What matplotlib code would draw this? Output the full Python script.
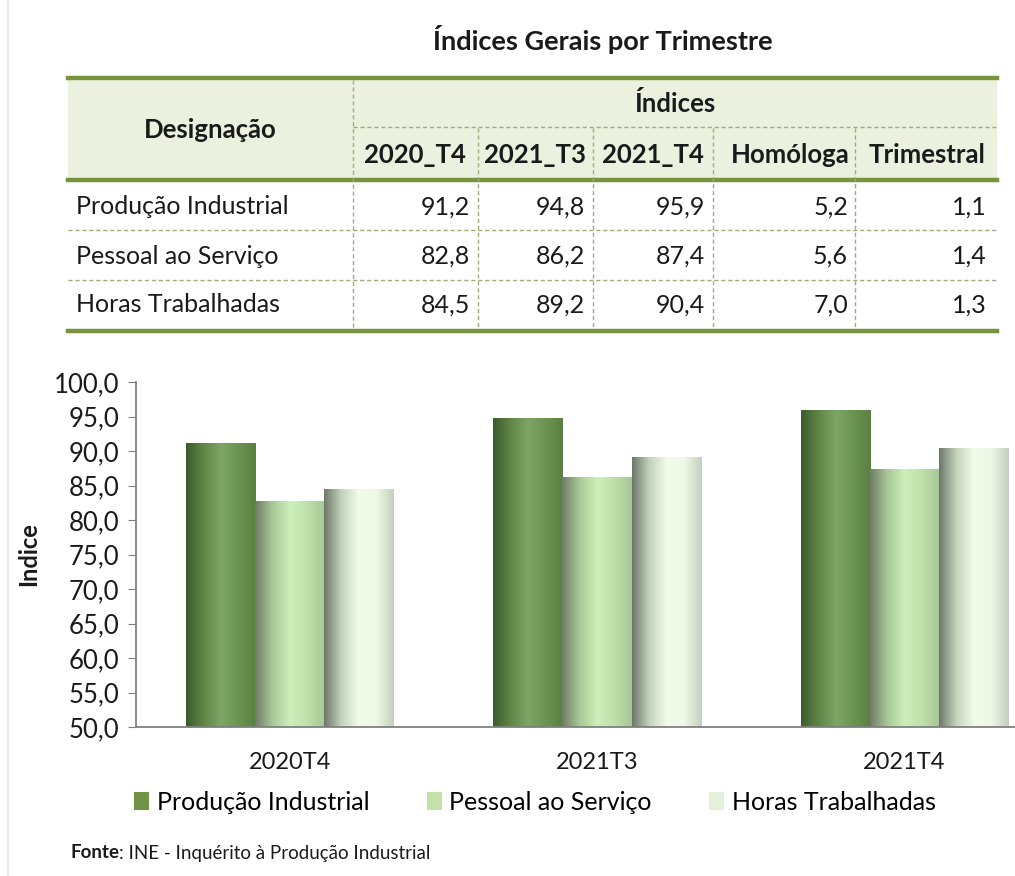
import numpy as np
import matplotlib.pyplot as plt
from matplotlib.colors import LinearSegmentedColormap
from matplotlib.patches import Patch, Rectangle
from matplotlib.lines import Line2D

plt.rcParams['font.family'] = ['Lato', 'DejaVu Sans']

# data
categories = ['2020T4', '2021T3', '2021T4']
series_names = ['Produção Industrial', 'Pessoal ao Serviço', 'Horas Trabalhadas']
producao = [91.2, 94.8, 95.9]
pessoal = [82.8, 86.2, 87.4]
horas = [84.5, 89.2, 90.4]
homologa = [5.2, 5.6, 7.0]
trimestral = [1.1, 1.4, 1.3]
table_cols = ['2020_T4', '2021_T3', '2021_T4', 'Homóloga', 'Trimestral']
yticks = np.arange(50, 101, 5)

W, H = 1015, 876
fig = plt.figure(figsize=(W / 100, H / 100), dpi=100)

def fx(x):
    return x / W

def fy(y):
    return 1 - y / H

def fmt(v):
    return f"{v:.1f}".replace('.', ',')

# faint page border
fig.add_artist(Line2D([fx(8), fx(8)], [0, 1], color='#dce6f2', lw=1.2))

# title
fig.text(fx(603), fy(40), 'Índices Gerais por Trimestre', ha='center', va='center',
         fontsize=19.5, fontweight='bold', color='#1a1a1a')

# ---------------- table ----------------
tab_l, tab_r = 68, 997
green = '#77933c'
dash_c = '#9aae7a'
fig.add_artist(Rectangle((fx(tab_l), fy(179)), fx(tab_r - tab_l), (179 - 79) / H,
                         facecolor='#ebf1de', edgecolor='none'))
for yy in [78, 180, 331]:
    fig.add_artist(Line2D([fx(tab_l), fx(tab_r)], [fy(yy), fy(yy)], color=green, lw=3.2))
fig.add_artist(Line2D([fx(353), fx(tab_r)], [fy(127), fy(127)], color=dash_c, lw=1,
                      linestyle=(0, (3, 2))))
for yy in [230, 280]:
    fig.add_artist(Line2D([fx(tab_l), fx(tab_r)], [fy(yy), fy(yy)], color=dash_c, lw=1,
                          linestyle=(0, (3, 2))))
fig.add_artist(Line2D([fx(353), fx(353)], [fy(80), fy(329)], color=dash_c, lw=1,
                      linestyle=(0, (3, 2))))
for xx in [478, 593, 713, 855]:
    fig.add_artist(Line2D([fx(xx), fx(xx)], [fy(128), fy(329)], color=dash_c, lw=1,
                          linestyle=(0, (3, 2))))

fs = 18
fsb = 18.5
fig.text(fx(210), fy(130), 'Designação', ha='center', va='center', fontsize=fsb,
         fontweight='bold', color='#1a1a1a')
fig.text(fx(675), fy(103), 'Índices', ha='center', va='center', fontsize=fsb,
         fontweight='bold', color='#1a1a1a')
col_centers = [415, 535, 653, 790, 927]
for c, lab in zip(col_centers, table_cols):
    fig.text(fx(c), fy(155), lab, ha='center', va='center', fontsize=fsb,
             fontweight='bold', color='#1a1a1a')

col_right = [470, 585, 705, 848, 987]
row_y = [207, 256, 305]
rows = [
    [producao[0], producao[1], producao[2], homologa[0], trimestral[0]],
    [pessoal[0], pessoal[1], pessoal[2], homologa[1], trimestral[1]],
    [horas[0], horas[1], horas[2], homologa[2], trimestral[2]],
]
for ry, name, vals in zip(row_y, series_names, rows):
    fig.text(fx(76), fy(ry), name, ha='left', va='center', fontsize=fs, color='#1a1a1a')
    for cr, v in zip(col_right, vals):
        fig.text(fx(cr), fy(ry), fmt(v), ha='right', va='center', fontsize=fs,
                 color='#1a1a1a')

# ---------------- chart ----------------
ax = fig.add_axes([fx(136), fy(727), fx(1015 - 136), (727 - 382) / H])
x = np.arange(len(categories))
bw = 0.225
grads = [
    ['#3d5a2e', '#5f8646', '#7ea566', '#6b9550', '#5a7f42'],
    ['#6e7d66', '#a9c898', '#cdefb9', '#bfe0a9', '#a9c596'],
    ['#6c776a', '#c5d3bd', '#f1fbe9', '#eef8e6', '#c4cfbe'],
]
legend_cols = ['#6f9447', '#c3e2aa', '#e4f0da']
for i, vals in enumerate([producao, pessoal, horas]):
    bars = ax.bar(x + (i - 1) * bw, np.array(vals) - 50, bw, bottom=50,
                  color='none', edgecolor='none', zorder=2)
    cmap = LinearSegmentedColormap.from_list(f'g{i}', grads[i])
    grad = np.linspace(0, 1, 256).reshape(1, -1)
    for b in bars:
        x0, y0 = b.get_x(), b.get_y()
        im = ax.imshow(grad, cmap=cmap, aspect='auto', zorder=2,
                       extent=[x0, x0 + b.get_width(), y0, y0 + b.get_height()])
        im.set_clip_path(b)

ax.set_xlim(-0.5, 2.36)
ax.set_ylim(50, 100)
ax.set_yticks(yticks)
ax.set_yticklabels([fmt(v) for v in yticks], fontsize=18.5, color='#1a1a1a')
ax.set_xticks(x)
ax.set_xticklabels(categories, fontsize=17, color='#1a1a1a')
ax.tick_params(axis='x', length=0, pad=18)
ax.tick_params(axis='y', direction='out', length=6, color='#808080', pad=6)
for s in ['top', 'right']:
    ax.spines[s].set_visible(False)
ax.spines['left'].set_color('#808080')
ax.spines['bottom'].set_color('#808080')
ax.spines['left'].set_linewidth(1.3)
ax.spines['bottom'].set_linewidth(1.3)
ax.set_ylabel('Indice', fontsize=17, fontweight='bold', color='#1a1a1a', labelpad=10)

handles = [Patch(facecolor=c, edgecolor='none') for c in legend_cols]
fig.legend(handles, series_names, loc='center', bbox_to_anchor=(fx(535), fy(802)),
           ncol=3, frameon=False, fontsize=18, handlelength=0.6, handleheight=0.75,
           handletextpad=0.3, columnspacing=2.3)

# source line: bold "Fonte" followed directly by the rest
fonte = fig.text(fx(70), fy(853), 'Fonte', fontsize=13.5, fontweight='bold', va='center',
                 color='#1a1a1a')
fig.canvas.draw()
bb = fonte.get_window_extent()
fig.text(bb.x1 / W, fy(853), ': INE - Inquérito à Produção Industrial', fontsize=13.5,
         va='center', color='#1a1a1a')

fig.savefig('out.png', dpi=100)
